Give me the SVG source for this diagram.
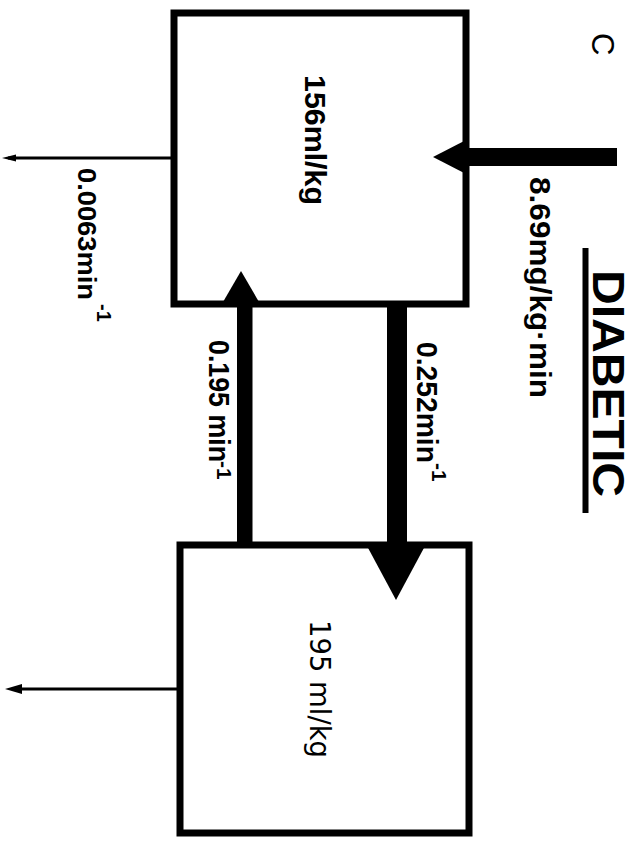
<svg xmlns="http://www.w3.org/2000/svg" width="637" height="846" viewBox="0 0 637 846">
<style>
.box{fill:none;stroke:#000;stroke-width:7;stroke-linejoin:miter}
.thin{stroke:#000;stroke-width:3;fill:none}
.b{font-family:"Liberation Sans",Arial,sans-serif;font-weight:bold;fill:#000}
.r{font-family:"Liberation Sans",Arial,sans-serif;fill:#000}
.d{font-family:"DejaVu Sans",sans-serif;fill:#000}
</style>
<rect width="637" height="846" fill="#fff"/>
<g id="title">
<text class="r" font-size="31" transform="translate(592,33) rotate(90)">C</text>
<text class="b" font-size="44" textLength="227" lengthAdjust="spacingAndGlyphs" transform="translate(593,270) rotate(90)">DIABETIC</text>
<line x1="585.5" y1="248" x2="585.5" y2="513" stroke="#000" stroke-width="6"/>
</g>
<g id="compartment1">
<rect class="box" x="174" y="13" width="292" height="291"/>
<text class="b" font-size="30" textLength="130" lengthAdjust="spacingAndGlyphs" transform="translate(305,75) rotate(90)">156ml/kg</text>
</g>
<g id="compartment2">
<rect class="box" x="180" y="545" width="289" height="288"/>
<text class="d" font-size="27.5" textLength="138" lengthAdjust="spacingAndGlyphs" transform="translate(310,620) rotate(90)">195 ml/kg</text>
</g>
<g id="connectors">
<!-- input -->
<rect x="466" y="148" width="151" height="18" fill="#000"/>
<polygon points="433,157 468,139 468,175" fill="#000"/>
<text class="b" font-size="29" textLength="221" lengthAdjust="spacingAndGlyphs" transform="translate(530,177) rotate(90)">8.69mg/kg·min</text>
<!-- elimination from compartment 1 -->
<line class="thin" x1="174" y1="158" x2="8" y2="158"/>
<polygon points="2,158 16,154.5 16,161.5" fill="#000"/>
<text class="b" font-size="26" textLength="132" lengthAdjust="spacingAndGlyphs" transform="translate(78,168) rotate(90)">0.0063min</text>
<text class="b" font-size="20" transform="translate(97,304) rotate(90)">-1</text>
<!-- outflow from compartment 2 -->
<line class="thin" x1="180" y1="689" x2="12" y2="689"/>
<polygon points="5,689 22,684 22,694" fill="#000"/>
<!-- 2 -> 1 -->
<rect x="237" y="300" width="15.5" height="245" fill="#000"/>
<polygon points="241,271 223,302 259,302" fill="#000"/>
<text class="b" font-size="29" textLength="122" lengthAdjust="spacingAndGlyphs" transform="translate(209,340) rotate(90)">0.195 min</text>
<text class="b" font-size="21" transform="translate(217,461) rotate(90)">-1</text>
<!-- 1 -> 2 -->
<rect x="387" y="304" width="20" height="244" fill="#000"/>
<polygon points="367,546 425,546 396,600" fill="#000"/>
<text class="b" font-size="29" textLength="121" lengthAdjust="spacingAndGlyphs" transform="translate(417,342) rotate(90)">0.252min</text>
<text class="b" font-size="21" transform="translate(432,463) rotate(90)">-1</text>
</g>
</svg>
